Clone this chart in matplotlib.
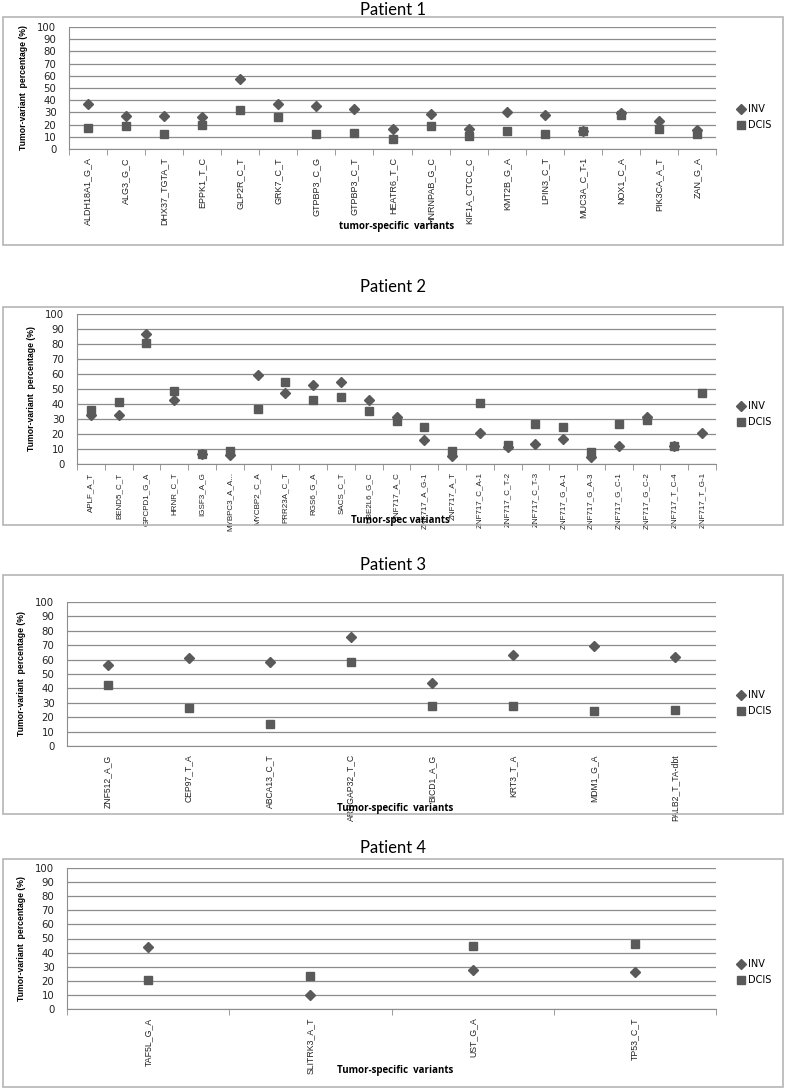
import matplotlib
matplotlib.use("Agg")
import matplotlib.pyplot as plt
from matplotlib.patches import Rectangle

# Patient 1
p1_variants = ["ALDH18A1_G_A", "ALG3_G_C", "DHX37_TGTA_T", "EPPK1_T_C", "GLP2R_C_T",
               "GRK7_C_T", "GTPBP3_C_G", "GTPBP3_C_T", "HEATR6_T_C", "HNRNPAB_G_C",
               "KIF1A_CTCC_C", "KMT2B_G_A", "LPIN3_C_T", "MUC3A_C_T-1", "NOX1_C_A",
               "PIK3CA_A_T", "ZAN_G_A"]
p1_inv = [36.5, 27, 27, 26.5, 57, 36.5, 35, 32.5, 16.5, 28.5, 16.5, 30.5, 27.5, 15, 29.5, 23, 15.5]
p1_dcis = [17, 19, 12.5, 20, 32, 26, 12.5, 13, 8.5, 19, 10.5, 15, 12, 15, 28, 16.5, 12.5]

# Patient 2
p2_variants = ["APLF_A_T", "BEND5_C_T", "GPCPD1_G_A", "HRNR_C_T", "IGSF3_A_G", "MYBPC3_A_A...",
               "MYCBP2_C_A", "PRR23A_C_T", "RGS6_G_A", "SACS_C_T", "UBE2L6_G_C", "ZNF717_A_C",
               "ZNF717_A_G-1", "ZNF717_A_T", "ZNF717_C_A-1", "ZNF717_C_T-2", "ZNF717_C_T-3",
               "ZNF717_G_A-1", "ZNF717_G_A-3", "ZNF717_G_C-1", "ZNF717_G_C-2", "ZNF717_T_C-4",
               "ZNF717_T_G-1"]
p2_inv = [33, 32.5, 86.5, 43, 7, 6, 59.5, 47.5, 52.5, 54.5, 42.5, 31.5,
          16, 5.5, 20.5, 11.5, 13.5, 17, 5, 12, 31.5, 12, 20.5]
p2_dcis = [36, 41.5, 80.5, 48.5, 7, 8.5, 36.5, 55, 42.5, 45, 35.5, 28.5,
           24.5, 8.5, 40.5, 12.5, 27, 24.5, 8, 26.5, 29.5, 12, 47.5]

# Patient 3
p3_variants = ["ZNF512_A_G", "CEP97_T_A", "ABCA13_C_T", "ARHGAP32_T_C",
               "BICD1_A_G", "KRT3_T_A", "MDM1_G_A", "PALB2_T_TA-dbt"]
p3_inv = [56, 61, 58, 76, 44, 63.5, 69.5, 62]
p3_dcis = [42.5, 26.5, 15.5, 58, 28, 28, 24, 25]

# Patient 4
p4_variants = ["TAF5L_G_A", "SLITRK3_A_T", "UST_G_A", "TP53_C_T"]
p4_inv = [44, 10, 28, 26]
p4_dcis = [20.5, 23.5, 44.5, 46]

W, H = 787, 1088
fig = plt.figure(figsize=(W / 100, H / 100), dpi=100)

COL = "#5a5a5a"
GRID = "#8c8c8c"
NARROW = ["Liberation Sans Narrow", "Liberation Sans", "DejaVu Sans"]


def px_axes(x0, y0, x1, y1):
    return fig.add_axes([x0 / W, 1 - y1 / H, (x1 - x0) / W, (y1 - y0) / H])


def frame(x0, y0, x1, y1):
    fig.patches.append(Rectangle((x0 / W, 1 - y1 / H), (x1 - x0) / W, (y1 - y0) / H,
                                 transform=fig.transFigure, fill=False,
                                 edgecolor="#b5b5b5", linewidth=1.2))


def panel(title, variants, inv, dcis, box, ax_box, title_y, xlabel, xlabel_y,
          leg_y, tick_fs, ticks=True):
    frame(*box)
    fig.text(0.5, 1 - title_y / H, title, ha="center", va="center",
             fontsize=12, family=["Lato", "DejaVu Sans"])
    ax = px_axes(*ax_box)
    n = len(variants)
    x = list(range(n))
    ax.plot(x, inv, ls="none", marker="D", ms=4.8, color=COL, mec=COL, label="INV", zorder=3)
    ax.plot(x, dcis, ls="none", marker="s", ms=6.2, color=COL, mec=COL, label="DCIS", zorder=3)
    ax.set_xlim(-0.5, n - 0.5)
    ax.set_ylim(0, 100)
    ax.set_yticks(range(0, 101, 10))
    ax.yaxis.grid(True, color=GRID, lw=0.9)
    ax.set_axisbelow(True)
    for s in ["top", "right"]:
        ax.spines[s].set_visible(False)
    ax.spines["left"].set_color(GRID)
    ax.spines["bottom"].set_color(GRID)
    ax.tick_params(axis="y", length=0, pad=9, labelsize=7.3, labelcolor="#222222")
    ax.set_xticks(x)
    ax.set_xticklabels(variants, rotation=90, fontsize=tick_fs, family=NARROW, color="#222222")
    ax.tick_params(axis="x", length=0, pad=6)
    if ticks:
        ax.set_xticks([i - 0.5 for i in range(n + 1)], minor=True)
        ax.tick_params(axis="x", which="minor", length=4, color=GRID)
    ax.set_ylabel("Tumor-variant  percentage (%)", fontsize=6.2, fontweight="bold",
                  family=NARROW, labelpad=7)
    fig.text(ax_box[0] / W + 0.5 * (ax_box[2] - ax_box[0]) / W + 0.005, 1 - xlabel_y / H, xlabel,
             ha="center", va="center", fontsize=7, fontweight="bold",
             family=["Open Sans", "DejaVu Sans"])
    ax.legend(loc="center left", bbox_to_anchor=(732 / W, 1 - leg_y / H),
              bbox_transform=fig.transFigure, frameon=False, fontsize=7,
              handlelength=0.8, handletextpad=0.3, labelspacing=0.6, borderpad=0)
    return ax


panel("Patient 1", p1_variants, p1_inv, p1_dcis, (3, 17, 783, 245), (69, 27, 716, 149),
      10, "tumor-specific  variants", 227, 117, 6.5)
panel("Patient 2", p2_variants, p2_inv, p2_dcis, (3, 307, 783, 525), (77, 314, 716, 464),
      287, "Tumor-spec variants", 520, 414, 5.8)
panel("Patient 3", p3_variants, p3_inv, p3_dcis, (3, 575, 783, 814), (67, 602, 716, 746),
      565, "Tumor-specific  variants", 808, 703, 6.2, ticks=False)
panel("Patient 4", p4_variants, p4_inv, p4_dcis, (3, 859, 783, 1087), (67, 868, 716, 1009),
      848, "Tumor-specific  variants", 1070, 972, 6.3)

fig.savefig("out.png", dpi=100)
